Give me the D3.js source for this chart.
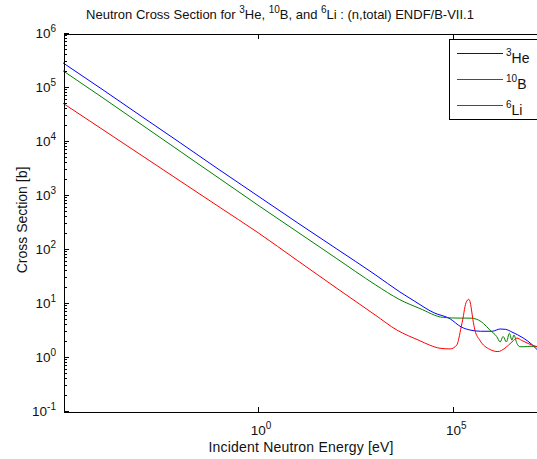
<!DOCTYPE html>
<html>
<head>
<meta charset="utf-8">
<script src="https://cdn.jsdelivr.net/npm/d3@7"></script>
<style>
  body { margin: 0; background: #fff; }
  svg { display: block; }
  text { font-family: "Liberation Sans", Arial, sans-serif; fill: #111; }
</style>
</head>
<body>
<svg id="chart"></svg>
<script>
// Cross sections (energy in eV, cross section in barns)
const heEnergy = [1e-5, 1e-4, 1e-3, 1e-2, 1e-1, 1, 10, 100, 1e3, 4.3e3, 1e4, 3.2e4, 8.3e4, 1.6e5, 2.7e5, 5e5, 1e6, 1.6e6, 2.2e6, 3.2e6, 6.2e6, 1e7, 1.4e7, 2e7];
const heXS = [2.8e5, 9.1e4, 2.9e4, 9.3e3, 2950, 955, 309, 102, 33.5, 16, 10.9, 6.6, 5.1, 3.6, 3.16, 3.0, 3.0, 3.3, 3.25, 2.9, 2.25, 1.75, 1.38, 1.12];

const bEnergy = [1e-5, 1e-4, 1e-3, 1e-2, 1e-1, 1, 10, 100, 1e3, 4.3e3, 1.4e4, 5.6e4, 1.5e5, 2.7e5, 4e5, 5.9e5, 8.7e5, 1.3e6, 1.6e6, 1.9e6, 2.3e6, 2.75e6, 3.2e6, 3.6e6, 4.3e6, 5.1e6, 6.9e6, 9.3e6, 1.4e7, 2e7];
const bXS = [2.0e5, 6.45e4, 2.04e4, 6450, 2040, 646, 209, 67.6, 21.9, 11.5, 7.9, 5.4, 5.25, 5.25, 5.0, 4.2, 3.16, 2.4, 1.9, 2.4, 1.9, 2.75, 2.05, 2.55, 1.78, 1.55, 1.55, 1.58, 1.55, 1.48];

const liEnergy = [1e-5, 1e-4, 1e-3, 1e-2, 1e-1, 1, 10, 100, 1e3, 3.6e3, 1.4e4, 2.5e4, 4.6e4, 8.3e4, 1.23e5, 1.6e5, 1.78e5, 2e5, 2.14e5, 2.5e5, 2.75e5, 2.95e5, 3.2e5, 3.6e5, 4.8e5, 8.7e5, 1.4e6, 2.1e6, 3.2e6, 4.3e6, 5.6e6, 8.3e6, 1.4e7, 2e7];
const liXS = [5.0e4, 1.66e4, 5500, 1820, 603, 200, 61.7, 19.1, 6.0, 3.16, 2.0, 1.66, 1.45, 1.41, 1.66, 3.6, 5.2, 8.5, 10.2, 11.7, 10.0, 7.4, 4.9, 3.16, 2.05, 1.38, 1.26, 1.45, 1.9, 2.24, 2.04, 1.78, 1.55, 1.48];

const seriesNames = [["3", "He"], ["10", "B"], ["6", "Li"]];
const seriesColors = ["#0000ff", "#008000", "#ff0000"];

const xTickValues = [1, 1e5];
const xTickExp = ["0", "5"];
const yTickValues = [1e-1, 1, 10, 1e2, 1e3, 1e4, 1e5, 1e6];
const yTickExp = ["-1", "0", "1", "2", "3", "4", "5", "6"];

const W = 537, H = 459;
const plot = {left: 63, top: 33, right: 543, bottom: 411};

const svg = d3.select("#chart").attr("width", W).attr("height", H);

const x = d3.scaleLog().domain([1e-5, 2e7]).range([plot.left, plot.right]);
const y = d3.scaleLog().domain([0.1, 1e6]).range([plot.bottom, plot.top]);

svg.append("defs").append("clipPath").attr("id", "clip")
  .append("rect")
  .attr("x", plot.left).attr("y", plot.top)
  .attr("width", plot.right - plot.left).attr("height", plot.bottom - plot.top);

// "10" followed by a raised exponent
function supLabel(sel, base, sup, baseSize, supSize) {
  sel.append("tspan").attr("font-size", baseSize).text(base);
  sel.append("tspan").attr("font-size", supSize).attr("dy", -6).text(sup);
}

// series lines
const line = d3.line()
  .x(d => x(d[0]))
  .y(d => y(d[1]))
  .curve(d3.curveMonotoneX);
const allSeries = [
  d3.zip(heEnergy, heXS),
  d3.zip(bEnergy, bXS),
  d3.zip(liEnergy, liXS)
];
const lines = svg.append("g").attr("clip-path", "url(#clip)");
allSeries.forEach((s, i) => {
  lines.append("path")
    .datum(s)
    .attr("fill", "none")
    .style("stroke", seriesColors[i])
    .attr("stroke-width", 1)
    .attr("d", line);
});

// axes
const axes = svg.append("g").attr("shape-rendering", "crispEdges");

// left axis, major + minor ticks pointing inward
const minorY = [];
for (let e = -1; e < 6; e++) {
  for (let k = 2; k <= 9; k++) minorY.push(k * Math.pow(10, e));
}
axes.append("g")
  .attr("transform", `translate(${plot.left + 0.5},0)`)
  .call(d3.axisLeft(y).tickValues(minorY).tickSize(-3).tickSizeOuter(0).tickFormat(""))
  .call(g => g.select(".domain").remove());
axes.append("g")
  .attr("transform", `translate(${plot.left + 0.5},0)`)
  .call(d3.axisLeft(y).tickValues(yTickValues).tickSize(-5).tickSizeOuter(0).tickFormat(""));

// bottom axis
axes.append("g")
  .attr("transform", `translate(0,${plot.bottom + 0.5})`)
  .call(d3.axisBottom(x).tickValues(xTickValues).tickSize(-5).tickSizeOuter(0).tickFormat(""));

// top border with ticks
axes.append("g")
  .attr("transform", `translate(0,${plot.top + 0.5})`)
  .call(d3.axisTop(x).tickValues(xTickValues).tickSize(-5).tickSizeOuter(0).tickFormat(""));

// right border (outside the window)
axes.append("line")
  .attr("x1", plot.right + 0.5).attr("x2", plot.right + 0.5)
  .attr("y1", plot.top).attr("y2", plot.bottom)
  .attr("stroke", "#000");

axes.selectAll(".domain, .tick line").attr("stroke", "#000");

// tick labels
yTickValues.forEach((v, i) => {
  const t = svg.append("text")
    .attr("x", 56).attr("y", y(v) + 5)
    .attr("text-anchor", "end");
  supLabel(t, "10", yTickExp[i], 13.5, 10);
});
xTickValues.forEach((v, i) => {
  const t = svg.append("text")
    .attr("x", x(v) + 3).attr("y", 435)
    .attr("text-anchor", "middle");
  supLabel(t, "10", xTickExp[i], 13.5, 10);
});

// axis titles
svg.append("text")
  .attr("x", 301).attr("y", 452)
  .attr("text-anchor", "middle")
  .attr("font-size", 14)
  .attr("textLength", 185)
  .text("Incident Neutron Energy [eV]");

svg.append("text")
  .attr("transform", "translate(27,220) rotate(-90)")
  .attr("text-anchor", "middle")
  .attr("font-size", 14)
  .text("Cross Section [b]");

// title with superscripts
const title = svg.append("text")
  .attr("x", 280).attr("y", 19)
  .attr("text-anchor", "middle")
  .attr("font-size", 13);
const titleParts = [
  ["Neutron Cross Section for ", false], ["3", true], ["He, ", false],
  ["10", true], ["B, and ", false], ["6", true], ["Li : (n,total) ENDF/B-VII.1", false]
];
let raised = false;
titleParts.forEach(([txt, sup]) => {
  const ts = title.append("tspan").text(txt);
  if (sup) { ts.attr("font-size", 10).attr("dy", raised ? 0 : -6); raised = true; }
  else { ts.attr("dy", raised ? 6 : 0); raised = false; }
});

// legend
const legend = svg.append("g");
legend.append("rect")
  .attr("x", 449.5).attr("y", 39.5)
  .attr("width", 120).attr("height", 80)
  .attr("fill", "#fff").attr("stroke", "#000")
  .attr("shape-rendering", "crispEdges");
seriesNames.forEach((nm, i) => {
  const ly = 53 + i * 26;
  legend.append("path")
    .attr("d", `M457,${ly + 0.5}H503`)
    .attr("fill", "none")
    .style("stroke", seriesColors[i])
    .attr("stroke-width", 1);
  const t = legend.append("text").attr("x", 506).attr("y", ly + 10);
  t.append("tspan").attr("font-size", 10).attr("dy", -7).text(nm[0]);
  t.append("tspan").attr("font-size", 14).attr("dy", 7).text(nm[1]);
});
</script>
</body>
</html>
